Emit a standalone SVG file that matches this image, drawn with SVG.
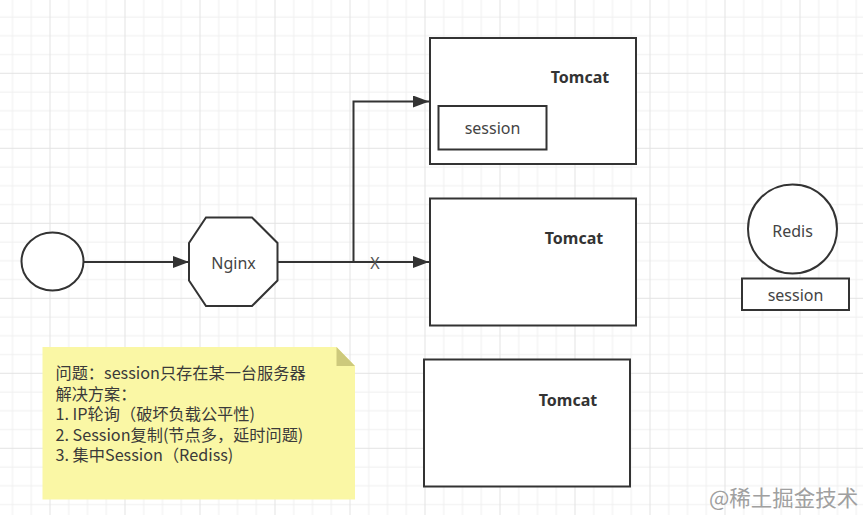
<svg xmlns="http://www.w3.org/2000/svg" width="863" height="515" viewBox="0 0 863 515">
  <defs>
    <pattern id="grid" patternUnits="userSpaceOnUse" x="49.5" y="72.8" width="75" height="75">
      <rect x="0" y="0" width="75" height="75" fill="#ffffff"/>
      <g fill="#efefef">
        <rect x="18.75" y="0" width="1" height="75"/>
        <rect x="37.5" y="0" width="1" height="75"/>
        <rect x="56.25" y="0" width="1" height="75"/>
        <rect x="0" y="18.75" width="75" height="1"/>
        <rect x="0" y="37.5" width="75" height="1"/>
        <rect x="0" y="56.25" width="75" height="1"/>
      </g>
      <g fill="#e3e3e3">
        <rect x="0" y="0" width="1" height="75"/>
        <rect x="0" y="0" width="75" height="1"/>
      </g>
    </pattern>
    <marker id="arrow" markerUnits="userSpaceOnUse" markerWidth="18" markerHeight="14" refX="16" refY="6" orient="auto">
      <path d="M0,0 L16,6 L0,12 Z" fill="#333333"/>
    </marker>
  </defs>
  <style>
    .shape { fill: #ffffff; stroke: #333333; stroke-width: 2; }
    .edge { fill: none; stroke: #333333; stroke-width: 2; }
    .lbl { font-family: "Noto Sans", "Noto Sans CJK SC", sans-serif; font-size: 16px; fill: #444444; text-anchor: middle; }
    .bold { font-family: "Noto Sans", "Noto Sans CJK SC", sans-serif; font-size: 16px; font-weight: bold; fill: #333333; text-anchor: middle; }
    .note { font-family: "Noto Sans CJK SC", sans-serif; font-size: 16.2px; fill: #3a3a3a; }
  </style>

  <rect x="0" y="0" width="863" height="515" fill="url(#grid)"/>

  <g id="connectors">
    <line class="edge" x1="83.5" y1="262" x2="189" y2="262" marker-end="url(#arrow)"/>
    <line class="edge" x1="277.5" y1="262" x2="429" y2="262" marker-end="url(#arrow)"/>
    <polyline class="edge" points="353.5,262 353.5,101.5 429,101.5" marker-end="url(#arrow)"/>
    <text class="lbl" x="375" y="268.5" style="font-size:16px;fill:#555555">X</text>
  </g>

  <g id="client">
    <ellipse class="shape" cx="52.5" cy="261.5" rx="31" ry="29"/>
  </g>

  <g id="nginx">
    <polygon class="shape" points="206,217.5 252,217.5 277.5,243 277.5,280.5 252,306 206,306 189,280.5 189,243"/>
    <text class="lbl" x="233.5" y="268.5">Nginx</text>
  </g>

  <g id="tomcat1">
    <rect class="shape" x="430" y="38" width="206" height="126"/>
    <text class="bold" x="580" y="83">Tomcat</text>
    <rect class="shape" x="438.5" y="106" width="108" height="43.5"/>
    <text class="lbl" x="492.5" y="133.5">session</text>
  </g>

  <g id="tomcat2">
    <rect class="shape" x="430" y="198.5" width="206" height="127"/>
    <text class="bold" x="574" y="244">Tomcat</text>
  </g>

  <g id="tomcat3">
    <rect class="shape" x="424" y="359.5" width="206" height="127"/>
    <text class="bold" x="568" y="405.5">Tomcat</text>
  </g>

  <g id="redis">
    <circle class="shape" cx="792.5" cy="229" r="44.5"/>
    <text class="lbl" x="792.5" y="236.5">Redis</text>
  </g>

  <g id="redis-session">
    <rect class="shape" x="742" y="278.5" width="107" height="31.5"/>
    <text class="lbl" x="795.5" y="300.5">session</text>
  </g>

  <g id="note">
    <polygon points="42.5,347 336.5,347 355,366 355,499.5 42.5,499.5" fill="#faf7a5"/>
    <polygon points="336.5,347 355,366 336.5,366" fill="#cdc97c"/>
    <text class="note" x="55.5" y="379">问题：session只存在某一台服务器</text>
    <text class="note" x="55.5" y="399.5">解决方案：</text>
    <text class="note" x="55.5" y="420">1. IP轮询（破坏负载公平性)</text>
    <text class="note" x="55.5" y="440.5">2. Session复制(节点多，延时问题)</text>
    <text class="note" x="55.5" y="461">3. 集中Session（Rediss)</text>
  </g>

  <text x="709" y="506" font-family="Noto Sans CJK SC, sans-serif" font-size="21.5" fill="#a0a0a0">@稀土掘金技术</text>
</svg>
